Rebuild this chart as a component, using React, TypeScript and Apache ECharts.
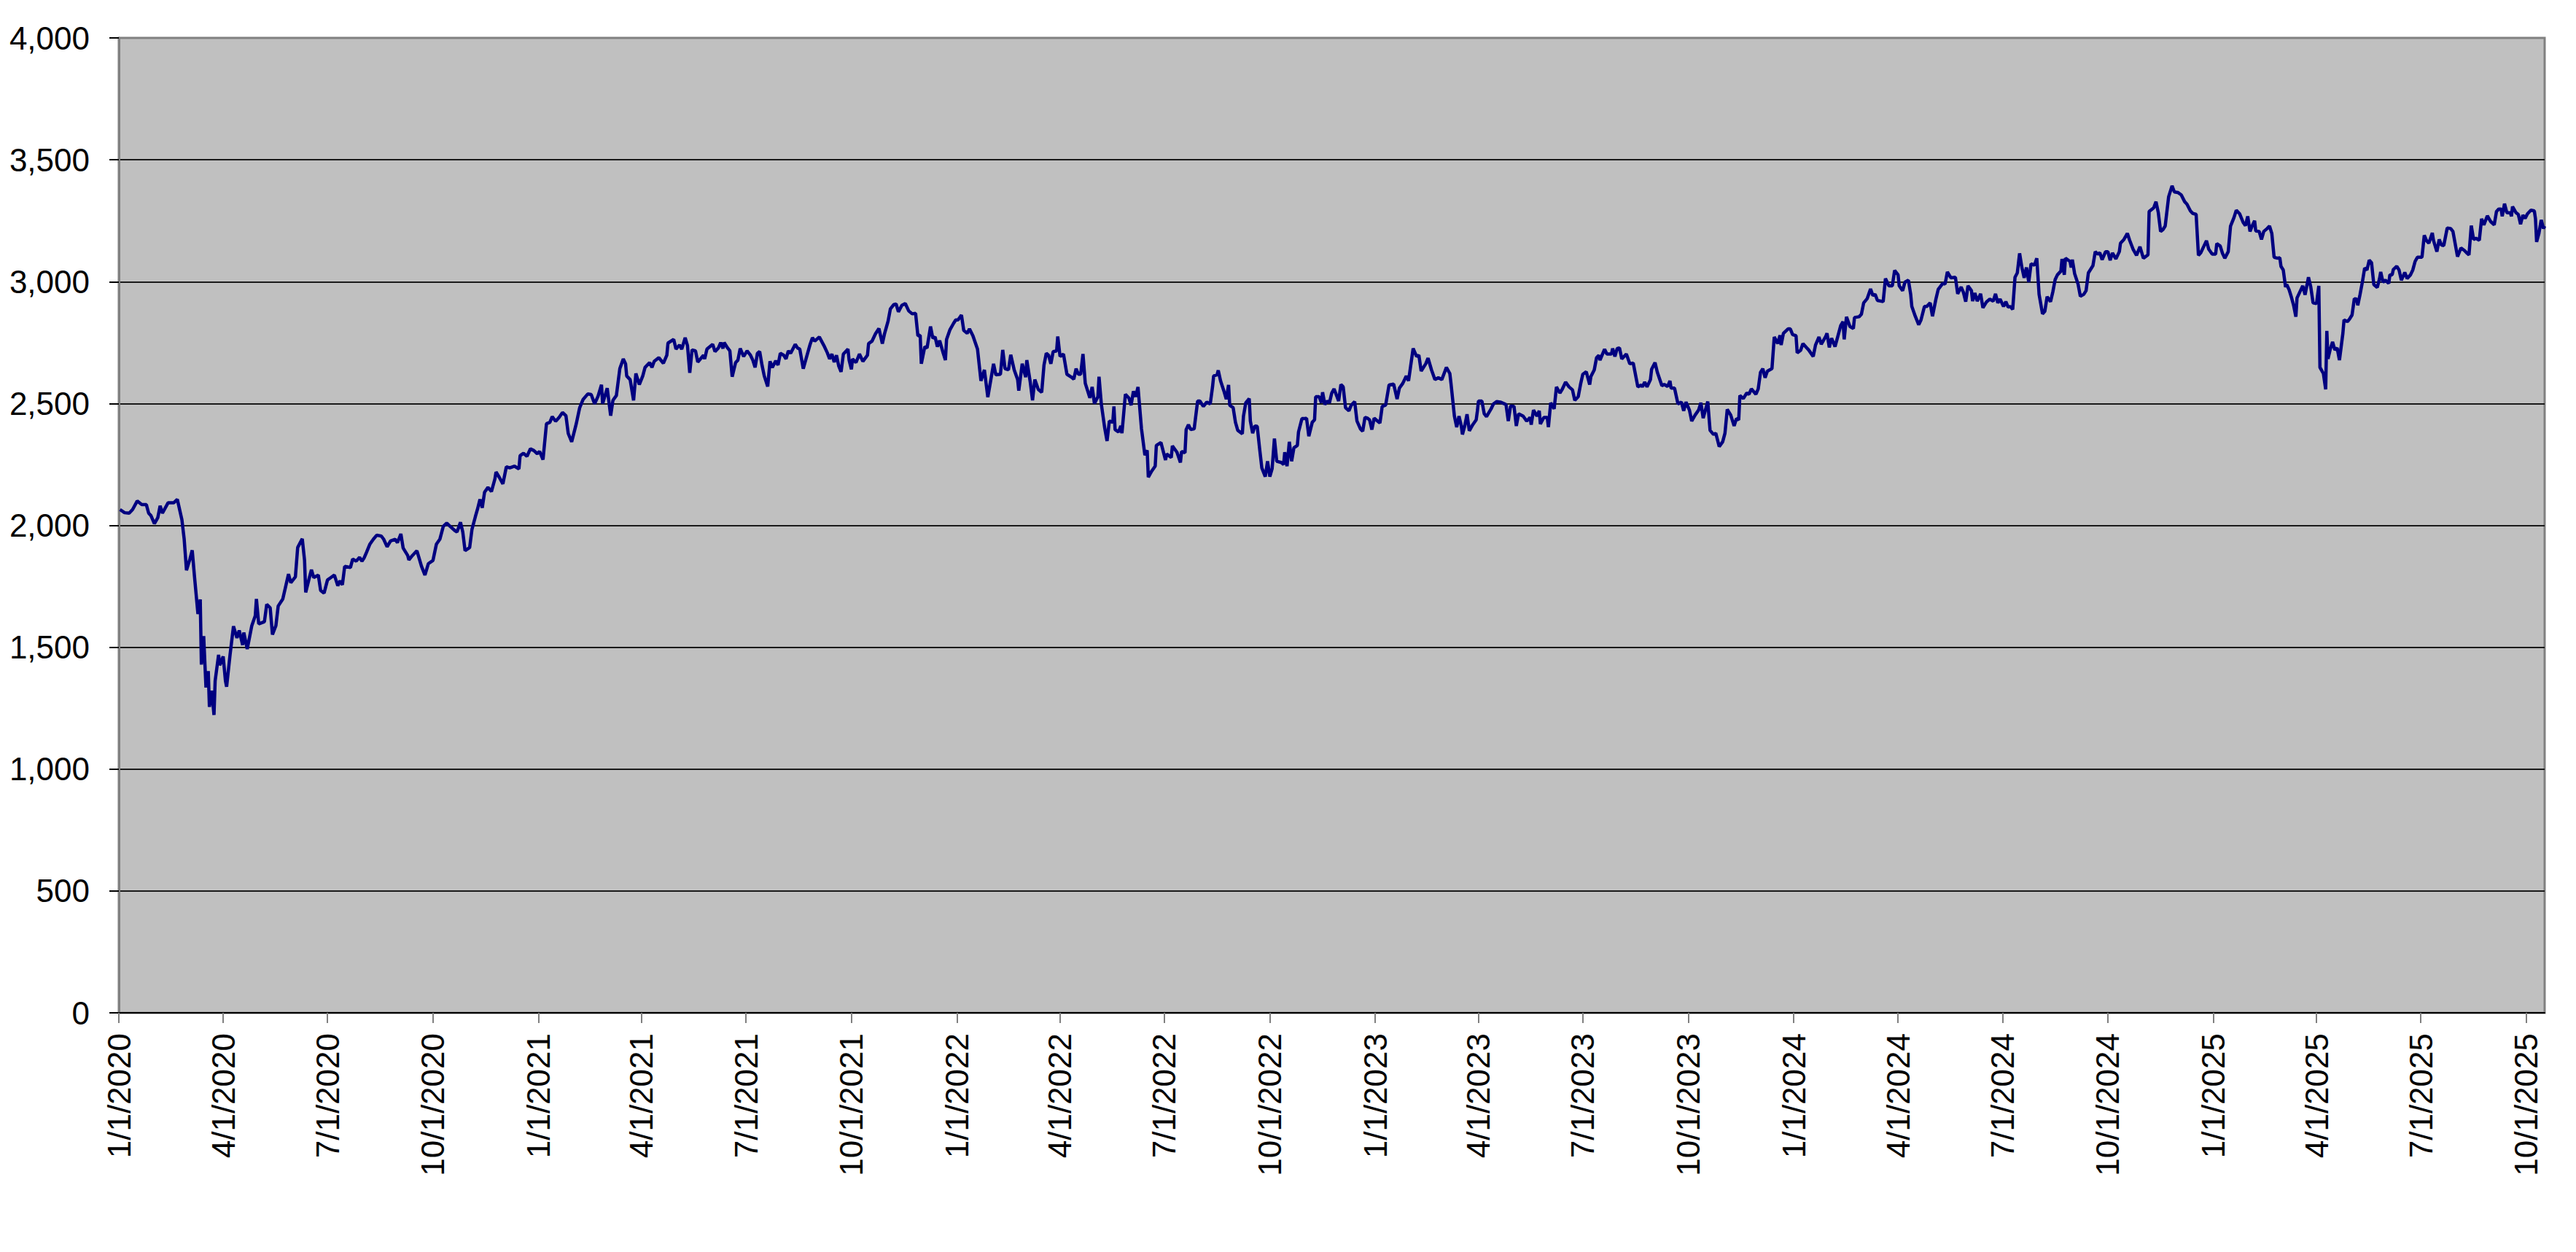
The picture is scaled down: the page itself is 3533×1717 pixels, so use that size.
import React, { useEffect, useRef } from "react";
import * as echarts from "echarts";

// Days since 1/1/2020 and index level
const dayOffsets: number[] = [
  1,5,9,12,16,20,24,26,28,31,34,36,38,43,48,51,55,57,59,62,64,66,69,71,72,74,76,78,79,81,
  83,84,87,88,91,93,94,97,100,103,105,108,109,112,116,119,120,122,127,129,132,134,137,139,143,148,150,154,156,160,
  162,163,166,168,170,174,176,179,182,185,188,191,193,195,197,202,204,207,210,212,214,216,219,222,225,229,231,234,237,241,
  243,246,248,252,253,256,260,264,267,270,274,277,280,283,286,289,293,295,298,300,302,306,308,311,313,315,317,319,322,325,
  328,329,332,335,338,341,345,349,350,353,356,359,362,365,367,370,373,376,378,381,384,387,390,392,395,399,402,405,409,412,
  415,418,421,422,
  426,429,431,434,437,440,442,443,446,449,451,454,457,459,463,465,467,471,475,478,479,484,486,489,491,494,496,498,500,503,
  505,510,511,513,518,520,523,525,527,528,531,533,535,538,540,542,545,548,551,553,555,557,559,561,563,566,568,570,573,575,
  577,580,582,584,586,590,592,594,597,600,603,605,607,611,615,618,620,622,624,626,628,630,632,636,637,639,640,643,646,649,
  653,654,657,660,663,666,668,671,673,676,678,680,683,686,689,692,695,697,699,700,703,705,708,710,712,714,716,719,721,722,
  725,728,730,732,735,737,740,742,745,749,752,755,758,761,763,765,769,771,773,776,778,781,784,785,788,791,792,795,797,799,
  802,805,807,809,811,813,815,818,819,821,824,827,831,833,835,837,839,841,843,847,
  849,851,854,855,857,860,862,864,867,868,869,872,874,875,878,881,883,885,887,889,892,895,897,898,901,904,905,909,913,914,
  918,919,923,926,927,930,931,933,935,938,941,943,946,949,952,954,955,958,959,961,964,966,968,969,972,974,976,980,981,983,
  986,987,989,991,993,995,997,1000,1002,1004,1006,1008,1010,1014,1016,1017,1019,1021,1023,1025,1028,1029,1032,1035,1036,1038,1041,1043,1044,1047,
  1049,1050,1052,1054,1056,1058,1060,1064,1066,1068,1070,1073,1075,1078,1080,1083,1085,1087,1089,1091,1093,1095,1098,1100,1101,1102,1105,1108,1112,1115,
  1117,1120,1123,1125,1129,1132,1134,1136,1140,1142,1145,1148,1151,1154,1158,1161,1162,1165,1167,1169,1171,1172,1174,1176,1178,1181,1184,1185,1186,1189,
  1191,1193,1197,1199,1202,1205,1208,1210,1212,1214,1217,1219,1221,1225,1228,1231,1232,1234,1237,1239,1240,1243,1246,1247,1249,1252,1254,1257,1259,1262,
  1265,1268,1270,
  1273,1275,1277,1280,1283,1284,1287,1289,1291,1292,1296,1298,1302,1303,1305,1307,1309,1311,1315,1318,1321,1325,1328,1329,1331,1333,1336,1337,1340,1342,
  1346,1348,1351,1353,1354,1357,1360,1363,1365,1367,1370,1372,1375,1378,1380,1382,1386,1388,1391,1393,1396,1399,1401,1403,1406,1409,1411,1413,1414,1417,
  1420,1422,1424,1428,1430,1432,1434,1436,1438,1442,1444,1447,1449,1450,1452,1456,1458,1460,1463,1464,1467,1469,1472,1474,1478,1480,1483,1485,1489,1490,
  1492,1494,1497,1499,1502,1504,1505,1507,1510,1513,1514,1518,1520,1522,1525,1528,1530,1532,1534,1539,1541,1544,1547,1549,1552,1553,1556,1558,1561,1563,
  1564,1567,1570,1572,1575,1577,1580,1582,1585,1587,1591,1593,1595,1598,1602,1604,1607,1609,1611,1613,1616,1617,1619,1621,1624,1626,1629,1632,1635,1637,
  1639,1641,1644,1646,1648,1650,1652,1654,1656,1658,1660,1662,1664,1666,1668,1671,1673,1675,1678,1680,1682,1685,1687,1689,1691,1694,1695,
  1697,1698,1702,1703,1704,1706,1709,1711,1714,1716,1718,1722,1724,1726,1728,1730,1733,1735,1737,1739,1742,1745,1746,1749,1752,1754,1757,1760,1763,1766,
  1770,1771,1775,1777,1779,1781,1783,1785,1788,1791,1793,1796,1799,1802,1804,1807,1809,1812,1814,1816,1818,1821,1823,1826,1829,1830,1833,1835,1837,1840,
  1842,1845,1847,1850,1853,1855,1857,1859,1861,1863,1864,1867,1869,1871,1874,1876,1878,1880,1883,1885,1886,1888,1890,1891,1893,1895,1897,1899,1900,1903,
  1905,1907,1910,1912,1914,1917,1919,1920,1923,1925,1926,1927,1929,1931,1933,1935,1937,1940,1941,1944,1946,1948,1950,1952,1953,1955,1957,1959,1961,1963,
  1965,1967,1970,1972,1973,1975,1977,1980,1981,1983,1984,1987,1989,1991,1994,1996,1999,2001,2003,2005,2009,2011,2013,2015,2018,2019,2022,2024,2026,2028,
  2031,2034,2036,2040,2043,2046,2048,2050,2052,2054,2056,2059,2061,2063,2066,2069,2072,2074,2076,2078,2079,2081,2083,2086,2087,2088,2091,2093,2095,2097,
  2099,2101,2104,2107,2108,2109,2111,2113,2115,2116,
];

const indexValues: number[] = [
  2065,2052,2050,2065,2100,2085,2085,2050,2040,2007,2032,2080,2050,2093,2093,2107,2023,1943,1816,1862,1898,1789,1636,1696,1429,1546,1335,1402,1255,1322,
  1222,1362,1469,1426,1462,1362,1338,1469,1586,1538,1569,1509,1560,1493,1589,1629,1698,1596,1605,1676,1662,1552,1589,1669,1698,1800,1765,1789,1909,1945,
  1856,1725,1782,1818,1786,1796,1733,1722,1776,1786,1796,1752,1773,1756,1832,1827,1862,1853,1869,1853,1867,1889,1923,1943,1960,1956,1943,1912,1936,1943,
  1929,1965,1907,1876,1858,1876,1896,1832,1796,1843,1856,1923,1943,1996,2009,1996,1979,1973,2013,1973,1896,1909,1983,2036,2069,2107,2072,2136,2156,2139,
  2190,2219,2196,2170,2240,2236,2243,2232,2286,2296,2283,2314,2307,2294,2303,2270,2417,2423,2446,2427,2443,2463,2450,2377,2343,2417,2483,2517,2539,2537,
  2499,2530,2577,2499,
  2563,2450,2513,2533,2643,2683,2663,2613,2598,2513,2623,2578,2613,2648,2668,2648,2673,2688,2665,2698,2748,2763,2723,2740,2723,2770,2738,2626,2720,2716,
  2670,2698,2683,2723,2743,2713,2728,2750,2726,2750,2728,2716,2610,2668,2678,2726,2693,2716,2698,2678,2648,2706,2713,2658,2613,2570,2673,2648,2675,2658,
  2706,2698,2683,2716,2706,2743,2728,2723,2643,2693,2743,2770,2756,2773,2738,2708,2683,2703,2670,2698,2653,2630,2703,2723,2678,2640,2683,2668,2703,2673,
  2698,2746,2756,2786,2808,2746,2788,2838,2888,2906,2908,2876,2903,2910,2880,2868,2870,2778,2780,2663,2733,2728,2816,2768,2773,2733,2758,2708,2678,2763,
  2803,2828,2843,2843,2863,2800,2788,2806,2778,2723,2593,2638,2526,2608,2663,2618,2620,2720,2643,2638,2700,2638,2598,2553,2663,2608,2678,2588,2513,2598,
  2558,2546,2658,2706,2698,2663,2713,2716,2775,2693,2703,2620,2608,2600,2643,2620,2620,2703,2583,2523,
  2568,2500,2528,2610,2498,2398,2346,2428,2423,2488,2393,2383,2408,2378,2538,2523,2493,2550,2528,2568,2398,2288,2308,2198,2223,2243,2328,2340,2268,2293,
  2278,2326,2300,2258,2303,2298,2393,2413,2393,2396,2510,2510,2488,2506,2498,2568,2613,2618,2636,2593,2550,2518,2576,2493,2483,2423,2390,2376,2448,2503,
  2520,2428,2378,2408,2406,2318,2236,2200,2263,2200,2233,2356,2263,2258,2250,2300,2243,2343,2263,2318,2328,2383,2438,2438,2440,2366,2423,2433,2528,2528,
  2503,2546,2496,2510,2503,2543,2560,2510,2578,2568,2483,2470,2493,2508,2428,2396,2386,2443,2440,2433,2393,2440,2428,2420,2453,2488,2493,2576,2580,2518,
  2563,2583,2613,2593,2726,2693,2698,2633,2663,2686,2638,2598,2606,2598,2648,2623,2583,2448,2403,2448,2408,2373,2408,2456,2388,2413,2433,2468,2510,2510,
  2458,2446,2478,2498,2508,2506,2500,2496,2428,2490,2488,2408,2458,2448,2428,2443,2413,2473,2448,2470,2416,2443,2443,2403,2503,2478,2568,2543,2558,2588,
  2568,2556,2513,
  2528,2578,2620,2630,2578,2610,2638,2688,2698,2678,2723,2703,2703,2726,2693,2726,2728,2683,2703,2663,2666,2568,2576,2568,2588,2568,2598,2640,2668,2628,
  2573,2578,2570,2593,2563,2563,2498,2506,2470,2506,2473,2428,2453,2473,2503,2440,2508,2390,2373,2378,2323,2343,2378,2476,2453,2408,2438,2433,2533,2520,
  2543,2538,2560,2538,2560,2628,2643,2606,2633,2643,2773,2746,2780,2740,2788,2806,2806,2783,2778,2708,2718,2746,2730,2720,2693,2740,2773,2743,2776,2788,
  2730,2768,2733,2768,2820,2836,2763,2856,2816,2808,2853,2856,2866,2913,2930,2970,2943,2948,2923,2918,3013,2983,2983,3046,3028,2983,2963,2998,3006,2948,
  2898,2858,2823,2843,2898,2898,2913,2858,2928,2968,2993,2990,3040,3016,3018,2950,2978,2956,2918,2983,2963,2920,2953,2920,2950,2893,2916,2928,2920,2950,
  2913,2928,2898,2918,2896,2898,2886,3018,3036,3116,3058,3016,3058,2998,3073,3068,3096,2948,2868,2878,2938,2918,2958,3008,3028,3043,3093,
  3028,3096,3083,3058,3090,3033,2990,2940,2948,2963,3036,3066,3123,3113,3118,3090,3123,3123,3088,3118,3093,3123,3158,3173,3198,3170,3133,3108,3143,3096,
  3110,3288,3303,3328,3283,3206,3213,3228,3348,3393,3368,3366,3356,3328,3318,3290,3280,3276,3108,3118,3138,3168,3133,3113,3113,3156,3146,3116,3096,3123,
  3228,3263,3293,3278,3243,3230,3268,3206,3230,3250,3208,3206,3173,3206,3218,3228,3198,3100,3096,3098,3063,3048,2978,2988,2968,2938,2903,2856,2933,2963,
  2983,2946,3018,2978,2913,2910,2983,2648,2623,2558,2798,2683,2723,2753,2720,2728,2678,2788,2843,2836,2848,2863,2930,2928,2903,2948,2998,3056,3048,3088,
  3078,2988,2976,3013,3040,2998,3006,2993,3028,3028,3050,3063,3048,3006,3038,3013,3028,3048,3083,3100,3100,3190,3168,3158,3200,3170,3123,3173,3150,3148,
  3220,3218,3206,3103,3138,3128,3118,3110,3230,3173,3178,3170,3258,3233,3270,3246,3233,3288,3298,3298,3268,3320,3283,3283,3268,3308,3283,3276,3236,3273,
  3260,3278,3293,3290,3258,3163,3198,3253,3218,3228,
];

// Quarter-start tick dates (year, month index)
const tickYears: number[] = [2020, 2021, 2022, 2023, 2024, 2025];
const tickMonths: number[] = [0, 3, 6, 9];
const yTicks = { min: 0, max: 4000, step: 500 };

const BASE = Date.UTC(2020, 0, 1);
const DAY = 86400000;

function quarterDays(): number[] {
  const out: number[] = [];
  tickYears.forEach((y) => {
    tickMonths.forEach((m) => {
      const d = (Date.UTC(y, m, 1) - BASE) / DAY;
      if (d <= dayOffsets[dayOffsets.length - 1]) out.push(d);
    });
  });
  return out;
}

function fmtDay(v: number): string {
  const dt = new Date(BASE + Math.round(v) * DAY);
  return `${dt.getUTCMonth() + 1}/${dt.getUTCDate()}/${dt.getUTCFullYear()}`;
}

const FONT = "'Liberation Sans', Arial, sans-serif";

export default function App() {
  const ref = useRef<HTMLDivElement>(null);
  useEffect(() => {
    if (!ref.current) return;
    const chart = echarts.init(ref.current, undefined, { renderer: "svg" });
    const qd = quarterDays();
    const data = dayOffsets.map((d, i) => [d, indexValues[i]]);
    chart.setOption({
      animation: false,
      backgroundColor: "#ffffff",
      textStyle: { fontFamily: FONT },
      grid: {
        left: 163,
        right: 43,
        top: 52,
        bottom: 328,
        show: true,
        backgroundColor: "#C0C0C0",
        borderColor: "#808080",
        borderWidth: 3,
        containLabel: false,
        outerBoundsMode: "none",
      },
      xAxis: {
        type: "value",
        min: 0,
        max: dayOffsets[dayOffsets.length - 1],
        splitLine: { show: false },
        axisLine: { show: true, onZero: false, lineStyle: { color: "#000000", width: 2 } },
        axisTick: {
          show: true,
          customValues: qd,
          length: 14,
          lineStyle: { color: "#808080", width: 2 },
        },
        axisLabel: {
          customValues: qd,
          rotate: 90,
          margin: 28,
          fontSize: 44,
          color: "#000000",
          fontFamily: FONT,
          formatter: (v: number) => fmtDay(v),
        },
      },
      yAxis: {
        type: "value",
        min: yTicks.min,
        max: yTicks.max,
        interval: yTicks.step,
        axisLine: { show: true, lineStyle: { color: "#808080", width: 3 } },
        axisTick: { show: true, length: 13, lineStyle: { color: "#000000", width: 2 } },
        axisLabel: {
          margin: 40,
          fontSize: 44,
          color: "#000000",
          fontFamily: FONT,
          formatter: (v: number) => v.toLocaleString("en-US"),
        },
        splitLine: {
          show: true,
          showMinLine: false,
          showMaxLine: false,
          lineStyle: { color: "#1a1a1a", width: 2 },
        },
      },
      series: [
        {
          type: "line",
          data,
          showSymbol: false,
          symbol: "none",
          lineStyle: { color: "#000080", width: 4.5 },
          itemStyle: { color: "#000080" },
          silent: true,
        },
      ],
    });
    return () => chart.dispose();
  }, []);
  return (
    <div
      ref={ref}
      style={{ position: "absolute", left: 0, top: 0, width: 3533, height: 1717, background: "#fff" }}
    />
  );
}
